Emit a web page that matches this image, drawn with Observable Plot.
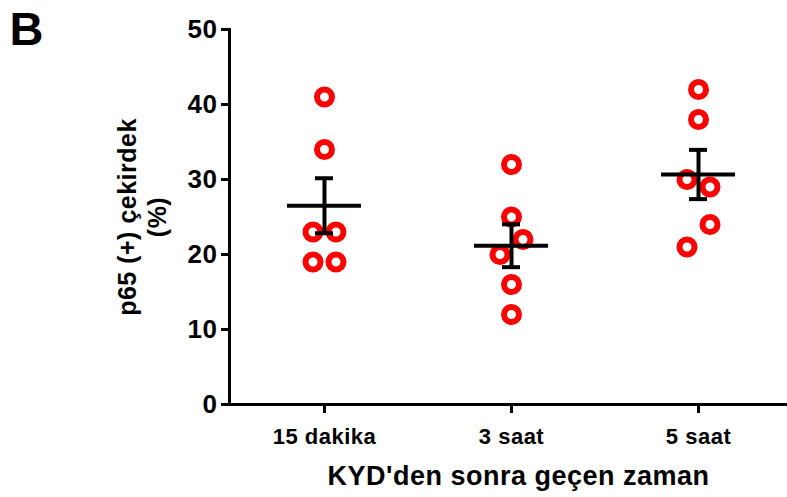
<!DOCTYPE html>
<html>
<head>
<meta charset="utf-8">
<script src="https://cdn.jsdelivr.net/npm/d3@7"></script>
<script src="https://cdn.jsdelivr.net/npm/@observablehq/plot@0.6"></script>
<style>
  html, body { margin: 0; padding: 0; background: white; }
</style>
</head>
<body>
<div id="chart"></div>
<script>
const categories = ["15 dakika", "3 saat", "5 saat"];
const values15 = [41, 34, 23, 23, 19, 19];
const column15 = [0, 0, -1, 1, -1, 1];
const values3 = [32, 25, 22, 20, 16, 12];
const column3 = [0, 0, 1, -1, 0, 0];
const values5 = [42, 38, 30, 29, 24, 21];
const column5 = [0, 0, -1, 1, 1, -1];
const yTicks = [0, 10, 20, 30, 40, 50];
const yLabel = "p65 (+) çekirdek\n(%)";
const xLabel = "KYD'den sonra geçen zaman";
const panelLabel = "B";

const groups = [values15, values3, values5];
const columns = [column15, column3, column5];
const points = groups.flatMap((vals, g) =>
  vals.map((v, i) => ({cat: categories[g], value: v, col: columns[g][i]})));
const stats = groups.map((vals, g) => {
  const m = d3.mean(vals);
  const sem = d3.deviation(vals) / Math.sqrt(vals.length);
  return {cat: categories[g], mean: m, lo: m - sem, hi: m + sem};
});

const red = "#ff0000";
const dotOpts = {x: "cat", y: "value", r: 7.5, stroke: red, strokeWidth: 6, fill: "none"};

const plot = Plot.plot({
  width: 787,
  height: 497,
  marginLeft: 229,
  marginRight: 0,
  marginTop: 29,
  marginBottom: 93,
  style: {fontFamily: "'Liberation Sans', Arial, sans-serif", fontWeight: "bold", color: "black", background: "white", overflow: "visible"},
  x: {type: "band", domain: categories, range: [174, 848], padding: 0.604, round: false},
  y: {domain: [0, 50]},
  marks: [
    Plot.axisY({ticks: yTicks, tickSize: 8, tickPadding: 4, strokeWidth: 3, fontSize: 26, label: null, anchor: "left"}),
    Plot.axisX({tickSize: 9, tickPadding: 15, strokeWidth: 3, fontSize: 22, label: null}),
    Plot.ruleY([0], {strokeWidth: 3}),
    Plot.frame({anchor: "left", strokeWidth: 3}),
    Plot.dot(points.filter(d => d.col === 0), dotOpts),
    Plot.dot(points.filter(d => d.col === -1), {...dotOpts, dx: -11.5}),
    Plot.dot(points.filter(d => d.col === 1), {...dotOpts, dx: 11.5}),
    Plot.tickY(stats, {x: "cat", y: "mean", strokeWidth: 4}),
    Plot.ruleX(stats, {x: "cat", y1: "lo", y2: "hi", strokeWidth: 4}),
    Plot.tickY(stats, {x: "cat", y: "hi", strokeWidth: 4, insetLeft: 28, insetRight: 28}),
    Plot.tickY(stats, {x: "cat", y: "lo", strokeWidth: 4, insetLeft: 28, insetRight: 28}),
    Plot.text([yLabel], {frameAnchor: "left", rotate: -90, dx: -88, fontSize: 25, lineHeight: 1.18, textAnchor: "middle", lineAnchor: "middle"}),
    Plot.text([xLabel], {frameAnchor: "bottom", textAnchor: "middle", lineAnchor: "top", dx: 10, dy: 61, fontSize: 27}),
    Plot.text([panelLabel], {frameAnchor: "top-left", textAnchor: "start", lineAnchor: "top", dx: -220, dy: -18, fontSize: 47})
  ]
});
plot.querySelectorAll("text").forEach(t => t.style.letterSpacing = "0.5px");
document.getElementById("chart").appendChild(plot);
</script>
</body>
</html>
